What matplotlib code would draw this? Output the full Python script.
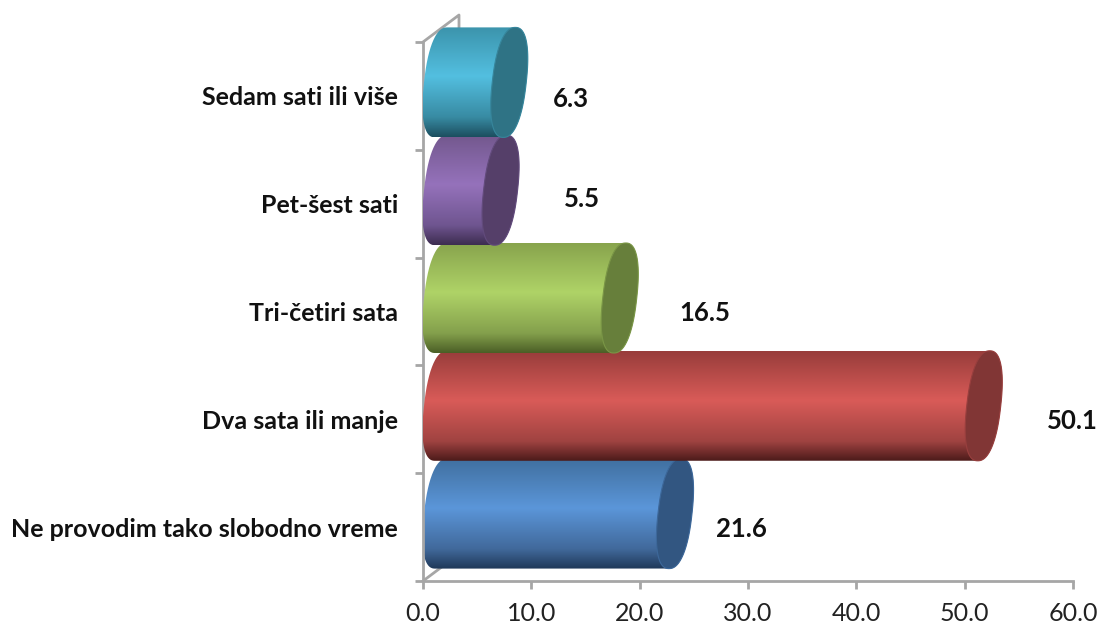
import matplotlib
matplotlib.use('Agg')
import matplotlib.pyplot as plt
from matplotlib.colors import LinearSegmentedColormap
from matplotlib.patches import PathPatch, Polygon
from matplotlib.path import Path
import numpy as np

categories = ['Ne provodim tako slobodno vreme', 'Dva sata ili manje', 'Tri-četiri sata',
              'Pet-šest sati', 'Sedam sati ili više']
values = [21.6, 50.1, 16.5, 5.5, 6.3]
xtick_values = [0, 10, 20, 30, 40, 50, 60]

# top, middle, lower, bottom shades of the tube and its end cap
tube_colors = [
    ['#406f9f', '#5b96d9', '#41699b', '#1f3858'],
    ['#983d3b', '#d95b58', '#a04341', '#4c1b1a'],
    ['#88a44d', '#afd367', '#84a04c', '#4b5f26'],
    ['#73588e', '#9572bb', '#6f5590', '#3d2d50'],
    ['#3b93ab', '#53bfe0', '#388ba3', '#1c4f5f'],
]
cap_colors = ['#325681', '#813635', '#677f3b', '#553f69', '#2f7385']
cap_edges = ['#3d689a', '#983f3e', '#7a9646', '#624b7c', '#37869c']
# gap from bar end to value label, and label height within the band
label_gaps = [5.45, 7.45, 7.2, 7.5, 5.7]
label_dy = [-0.02, -0.02, -0.01, 0.04, -0.03]

fig = plt.figure(figsize=(11.01, 6.28), dpi=100)
ax = fig.add_axes([423 / 1101, 1 - 581 / 628, 650 / 1101, 539 / 628])
ax.set_xlim(0, 60)
ax.set_ylim(0, 5)
ax.patch.set_alpha(0)

# pixel sizes in data units
px_x = 60 / 650
px_y = 5 / 539
depth_x = 36 * px_x
depth_y = 27 * px_y
radius_x = 17 * px_x
radius_y = 55 * px_y
shear = 6 * px_x
roundness = 0.85


def ring(cx, cy, start, stop):
    # slanted, slightly squared ellipse for the ends of a tube
    t = np.linspace(start, stop, 120)
    c = np.sign(np.cos(t)) * np.abs(np.cos(t)) ** roundness
    s = np.sign(np.sin(t)) * np.abs(np.sin(t)) ** roundness
    return np.column_stack([cx + radius_x * c + shear * s, cy + radius_y * s])


# walls of the 3D frame
grey = '#a6a6a6'
ax.plot([0, depth_x, depth_x], [5, 5 + depth_y, 5 + depth_y / 2], color=grey, lw=2,
        clip_on=False, zorder=1, solid_capstyle='round')
ax.plot([0, depth_x / 2], [0, depth_y / 2], color=grey, lw=2, clip_on=False, zorder=1)

# lowest band first, so each tube overlaps the one below it
for i, v in enumerate(values):
    z = 2 + i
    cy = i + 0.5 + depth_y / 2
    start_x = depth_x / 2
    end_x = v + depth_x / 2
    back = ring(start_x, cy, np.pi / 2, 3 * np.pi / 2)
    front = ring(end_x, cy, -np.pi / 2, np.pi / 2)
    outline = np.vstack([back, front, back[:1]])
    cmap = LinearSegmentedColormap.from_list('tube', list(zip([0, 0.45, 0.82, 1], tube_colors[i])))
    im = ax.imshow(np.linspace(0, 1, 256).reshape(-1, 1), cmap=cmap, aspect='auto',
                   extent=[0, end_x + 2, cy - radius_y, cy + radius_y], zorder=z,
                   interpolation='bilinear')
    # tubes stick out above the axes box, so only the outline clips them
    im.set_clip_path(PathPatch(Path(outline), transform=ax.transData))
    im.set_clip_box(fig.bbox)
    cap = ring(end_x, cy, 0, 2 * np.pi)
    ax.add_patch(Polygon(cap, closed=True, facecolor=cap_colors[i], edgecolor=cap_edges[i], lw=0.8,
                         clip_on=False, zorder=z))
ax.set_xlim(0, 60)
ax.set_ylim(0, 5)

for i, v in enumerate(values):
    ax.text(v + label_gaps[i], i + 0.5 + label_dy[i], f'{v:.1f}', ha='left', va='center',
            fontsize=18.5, fontweight='bold', family='Lato', color='#111111', zorder=10)

for side in ['top', 'right']:
    ax.spines[side].set_visible(False)
for side in ['left', 'bottom']:
    ax.spines[side].set_color(grey)
    ax.spines[side].set_linewidth(2)

ax.set_xticks(xtick_values)
ax.set_xticklabels([f'{t:.1f}' for t in xtick_values], family='Lato', fontsize=18, color='#222222')
ax.tick_params(axis='x', color=grey, width=2, length=6, pad=9)
ax.set_yticks(range(6))
ax.set_yticklabels([])
ax.tick_params(axis='y', which='major', color=grey, width=2, length=6)
ax.set_yticks([i + 0.5 for i in range(5)], minor=True)
ax.set_yticklabels(categories, minor=True, family='Lato', fontweight='bold', fontsize=18,
                   color='#111111')
ax.tick_params(axis='y', which='minor', length=0, pad=18)

fig.savefig('out.png', dpi=100)
